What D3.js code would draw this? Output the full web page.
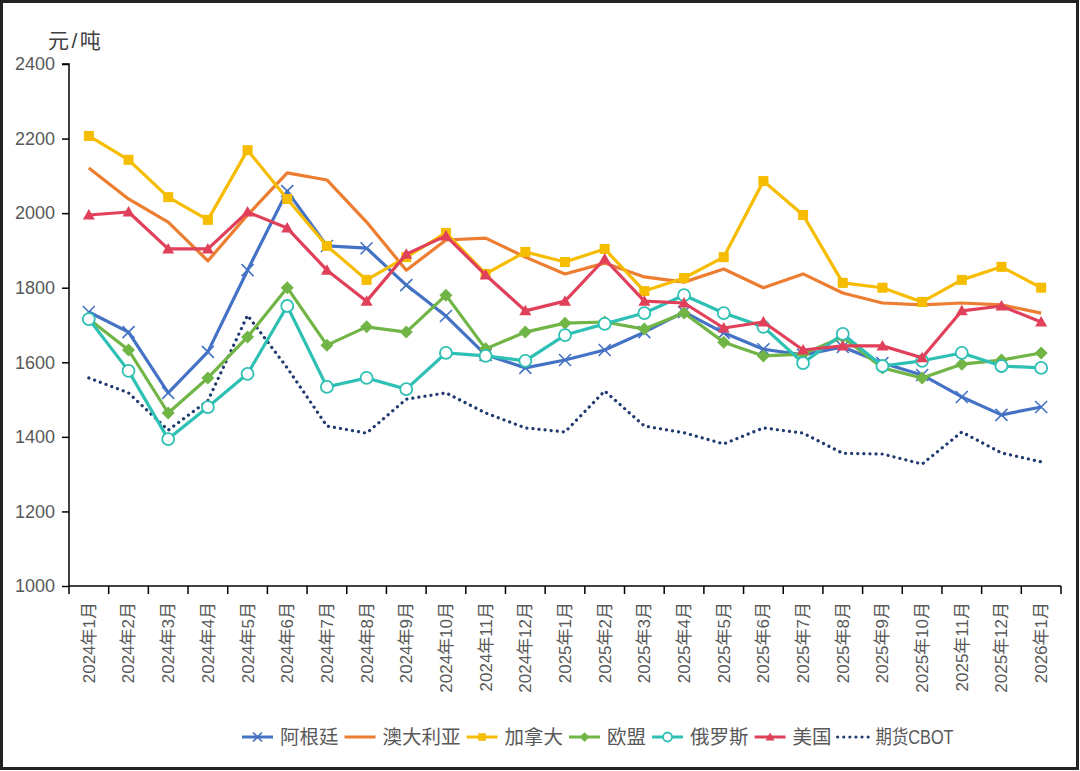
<!DOCTYPE html>
<html><head><meta charset="utf-8">
<script src="https://cdn.jsdelivr.net/npm/d3@7"></script>
<style>
html,body{margin:0;padding:0;background:#fff;}
svg text{font-family:"Liberation Sans","Noto Sans CJK SC",sans-serif;}
</style></head>
<body><svg id="c" width="1080" height="771"></svg>
<script>
const categories = ["2024年1月","2024年2月","2024年3月","2024年4月","2024年5月","2024年6月","2024年7月","2024年8月","2024年9月","2024年10月","2024年11月","2024年12月","2025年1月","2025年2月","2025年3月","2025年4月","2025年5月","2025年6月","2025年7月","2025年8月","2025年9月","2025年10月","2025年11月","2025年12月","2026年1月"];
const argentina = [1735,1681,1518,1628,1847,2059,1912,1906,1807,1724,1620,1585,1606,1633,1681,1735,1679,1635,1620,1641,1598,1566,1507,1459,1480];
const australia = [2121,2038,1976,1872,1995,2108,2089,1976,1847,1928,1933,1882,1837,1866,1829,1815,1850,1800,1837,1786,1759,1754,1759,1754,1732];
const canada = [2207,2143,2043,1982,2169,2038,1912,1821,1882,1947,1837,1896,1869,1904,1791,1826,1882,2086,1995,1813,1800,1762,1821,1856,1800];
const eu = [1716,1633,1464,1558,1668,1800,1646,1695,1681,1780,1636,1681,1705,1708,1689,1732,1654,1617,1622,1668,1585,1558,1595,1606,1625];
const russia = [1716,1577,1394,1480,1569,1751,1534,1558,1528,1625,1617,1604,1673,1703,1732,1780,1732,1695,1598,1676,1590,1604,1625,1590,1585];
const usa = [1995,2003,1904,1904,2003,1960,1847,1764,1890,1939,1834,1738,1764,1877,1764,1759,1692,1708,1633,1644,1644,1612,1738,1751,1708];
const cbot = [1558,1518,1418,1497,1726,1585,1429,1410,1501,1518,1464,1424,1413,1523,1429,1411,1381,1424,1410,1356,1354,1327,1413,1357,1333];
const yTicks = [1000,1200,1400,1600,1800,2000,2200,2400];
const seriesNames = ["阿根廷","澳大利亚","加拿大","欧盟","俄罗斯","美国","期货CBOT"];
const unitLabel = "元/吨";

const series = [
  {name:seriesNames[0], data:argentina, color:"#4472C4", marker:"x"},
  {name:seriesNames[1], data:australia, color:"#ED7D31", marker:null},
  {name:seriesNames[2], data:canada, color:"#F5BC00", marker:"square"},
  {name:seriesNames[3], data:eu, color:"#70B545", marker:"diamond"},
  {name:seriesNames[4], data:russia, color:"#2EC0B4", marker:"circle"},
  {name:seriesNames[5], data:usa, color:"#E0405A", marker:"triangle"},
  {name:seriesNames[6], data:cbot, color:"#1F3A6E", marker:null, dotted:true}
];

const svg = d3.select("#c");
const L=69, R=1061, T=64, B=586;
const x = d3.scaleBand().domain(categories).range([L,R]);
const y = d3.scaleLinear().domain([1000,2400]).range([B,T]);
const textColor = "#595959";

// outer frame
svg.append("rect").attr("x",1.5).attr("y",1.5).attr("width",1076).attr("height",767)
  .attr("fill","none").attr("stroke","#222").attr("stroke-width",3);

// y axis
const yAxis = svg.append("g").attr("transform",`translate(${L},0)`)
  .call(d3.axisLeft(y).tickValues(yTicks).tickSize(7).tickPadding(7).tickFormat(d3.format("d")));
yAxis.selectAll("path,line").attr("stroke","#000").attr("stroke-width",1.5);
yAxis.select(".domain").attr("d",`M-7,${T}H0V${B}`);
yAxis.selectAll("text").attr("font-size",18).attr("fill",textColor);

// x axis
const xAxis = svg.append("g").attr("transform",`translate(0,${B})`)
  .call(d3.axisBottom(x).tickSize(0).tickPadding(0));
xAxis.select(".domain").attr("d",`M${L},0H${R}`).attr("stroke","#000").attr("stroke-width",1.5);
xAxis.selectAll(".tick text")
  .attr("font-size",17).attr("fill",textColor)
  .attr("text-anchor","end").attr("dy","0.35em")
  .attr("transform","translate(0,16) rotate(-90)")
  .attr("x",0).attr("y",0);
// tick marks at band boundaries
const bounds = categories.map(c=>x(c)).concat([R]);
svg.append("g").selectAll("line").data(bounds).join("line")
  .attr("x1",d=>d).attr("x2",d=>d).attr("y1",B).attr("y2",B+8)
  .attr("stroke","#000").attr("stroke-width",1.5);

// unit label
svg.append("text").attr("x",48).attr("y",48).attr("font-size",21).attr("letter-spacing",2.5)
  .attr("fill","#404040").text(unitLabel);

const cx = d => x(d)+x.bandwidth()/2;
const line = d3.line().x((v,i)=>cx(categories[i])).y(v=>y(v));

function drawMarker(g, type, color, px, py, s){
  s = s||1;
  if(type==="x"){
    const r=6*s;
    g.append("path").attr("d",`M${px-r},${py-r}L${px+r},${py+r}M${px-r},${py+r}L${px+r},${py-r}`)
      .attr("stroke",color).attr("stroke-width",1.6).attr("fill","none");
  } else if(type==="square"){
    const r=5*s;
    g.append("rect").attr("x",px-r).attr("y",py-r).attr("width",2*r).attr("height",2*r).attr("fill",color);
  } else if(type==="diamond"){
    const r=6.5*s;
    g.append("path").attr("d",`M${px},${py-r}L${px+r},${py}L${px},${py+r}L${px-r},${py}Z`).attr("fill",color);
  } else if(type==="circle"){
    g.append("circle").attr("cx",px).attr("cy",py).attr("r",6*s).attr("fill","#fff").attr("stroke",color).attr("stroke-width",1.8);
  } else if(type==="triangle"){
    const r=6*s;
    g.append("path").attr("d",`M${px},${py-r}L${px+r},${py+r*0.75}L${px-r},${py+r*0.75}Z`).attr("fill",color);
  }
}

// draw order: cbot first at bottom
const order = [6,1,0,2,3,4,5];
order.forEach(k=>{
  const s = series[k];
  const g = svg.append("g");
  const p = g.append("path").attr("d",line(s.data)).attr("fill","none").attr("stroke",s.color)
    .attr("stroke-width",3.2).attr("stroke-linejoin","round");
  if(s.dotted) p.attr("stroke-dasharray","0.1 6").attr("stroke-linecap","round");
  if(s.marker){
    s.data.forEach((v,i)=>drawMarker(g,s.marker,s.color,cx(categories[i]),y(v)));
  }
});

// legend
const lg = svg.append("g");
let lx = 242; const ly = 737;
series.forEach(s=>{
  const w = 31;
  const ln = lg.append("line").attr("x1",lx).attr("x2",lx+w).attr("y1",ly).attr("y2",ly)
    .attr("stroke",s.color).attr("stroke-width",3);
  if(s.dotted) ln.attr("stroke-dasharray","0.1 6").attr("stroke-linecap","round");
  if(s.marker) drawMarker(lg,s.marker,s.color,lx+w/2,ly,0.75);
  const t = lg.append("text").attr("x",lx+w+7).attr("y",ly).attr("dy","0.36em")
    .attr("font-size",19.5).attr("fill",textColor).text(s.name);
  if(s.dotted) t.attr("textLength",78).attr("lengthAdjust","spacingAndGlyphs");
  lx += w + 7 + t.node().getComputedTextLength() + 6;
});
</script></body></html>
